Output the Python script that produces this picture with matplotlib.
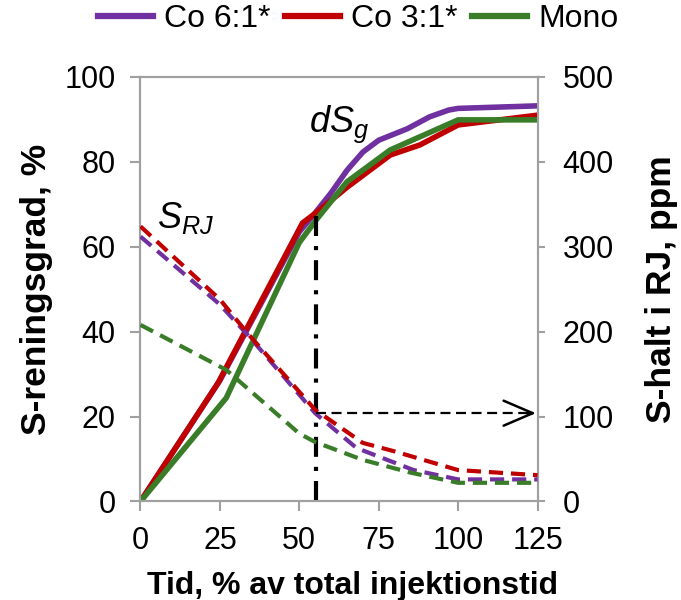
import matplotlib
matplotlib.use("Agg")
import matplotlib.pyplot as plt

plt.rcParams['font.family'] = ['Liberation Sans', 'DejaVu Sans']
plt.rcParams['mathtext.fontset'] = 'custom'
plt.rcParams['mathtext.it'] = 'Liberation Sans:italic'
plt.rcParams['mathtext.rm'] = 'Liberation Sans'

# S-reningsgrad (%), solid lines, left axis
x_co61 = [0, 25, 50, 55, 60, 65, 70, 75, 84, 91, 97, 100, 125]
s_co61 = [0, 28.5, 63.5, 68, 72.7, 78, 82.3, 85.1, 87.8, 90.6, 92.2, 92.6, 93.2]
x_co31 = [0, 24.4, 51, 55.6, 65, 78.6, 88, 100, 125]
s_co31 = [0, 27.9, 65.6, 68.2, 74, 81.6, 84, 88.7, 91]
x_mono = [0, 27, 50, 55.5, 65, 78.6, 100, 125]
s_mono = [0, 24.4, 61, 66.5, 75.3, 82.8, 89.9, 89.9]

# S-halt i RJ (ppm), dashed lines, right axis
xr_co61 = [0, 25, 34.5, 55, 68, 86, 100, 125]
rj_co61 = [312, 232, 193, 104, 63, 37, 26, 26]
xr_co31 = [0, 25, 33.5, 55, 70, 80, 100, 125]
rj_co31 = [324, 238, 199, 108, 69, 59, 37, 31]
xr_mono = [0, 27, 50, 55, 70, 85, 100, 125]
rj_mono = [208, 155, 80, 70, 49, 34, 22, 22]

labels = ['Co 6:1*', 'Co 3:1*', 'Mono']
colors = ['#7030A0', '#C00000', '#3A7D28']

x_mark = 55.3      # dS_g-point
y_mark_top = 68
rj_mark = 104
x_arrow_end = 124.5

fig = plt.figure(figsize=(6.81, 6.0), dpi=100)
ax = fig.add_axes([0.2063, 0.1642, 0.583, 0.7075])
ax2 = ax.twinx()

lines = []
for xs, ys, c in zip([x_co61, x_co31, x_mono], [s_co61, s_co31, s_mono], colors):
    ln, = ax.plot(xs, ys, color=c, lw=4, solid_joinstyle='miter', zorder=3)
    lines.append(ln)

for xs, ys, c in zip([xr_co61, xr_co31, xr_mono], [rj_co61, rj_co31, rj_mono], colors):
    ax2.plot(xs, ys, color=c, lw=3, linestyle=(0, (3.4, 1.9)), zorder=3)

# markers for dS_g and S_RJ
ax.plot([x_mark, x_mark], [0, y_mark_top], color='black', lw=3,
        linestyle=(0, (4.8, 2.4, 1, 2.4)), zorder=4)
ax2.plot([x_mark, x_arrow_end - 1], [rj_mark, rj_mark], color='black', lw=1.6,
         linestyle=(0, (4.5, 2.5)), zorder=4)
ax2.annotate('', xy=(x_arrow_end, rj_mark), xytext=(x_arrow_end - 3, rj_mark),
             arrowprops=dict(arrowstyle='->, head_length=0.7, head_width=0.3',
                             color='black', lw=1.8, mutation_scale=30,
                             shrinkA=0, shrinkB=0))
ax.text(53.2, 87, r'$dS_g$', fontsize=26, zorder=5)
ax.text(5.3, 64.5, r'$S_{RJ}$', fontsize=26, zorder=5)

ax.set_xlim(0, 125)
ax.set_ylim(0, 100)
ax2.set_ylim(0, 500)
ax.set_xticks([0, 25, 50, 75, 100, 125])
ax.set_yticks([0, 20, 40, 60, 80, 100])
ax2.set_yticks([0, 100, 200, 300, 400, 500])

for a in (ax, ax2):
    for sp in a.spines.values():
        sp.set_color('#a0a0a0')
        sp.set_linewidth(1.5)
ax.tick_params(axis='both', labelsize=22, color='#a0a0a0', width=1.5, length=7, pad=11)
ax2.tick_params(axis='y', labelsize=22, color='#a0a0a0', width=1.5, length=5, pad=13)

ax.set_xlabel('Tid, % av total injektionstid', fontsize=23, fontweight='bold')
ax.set_ylabel('S-reningsgrad, %', fontsize=25.5, fontweight='bold')
ax2.set_ylabel('S-halt i RJ, ppm', fontsize=25.5, fontweight='bold')
ax.xaxis.set_label_coords(0.535, -0.163)
ax.yaxis.set_label_coords(-0.22, 0.5)
ax2.yaxis.set_label_coords(1.27, 0.5)

fig.legend(lines, labels, loc='upper center', bbox_to_anchor=(0.526, 1.015),
           ncol=3, frameon=False, fontsize=23, handlelength=1.72,
           handletextpad=0.34, columnspacing=0.47, borderaxespad=0)
for h in fig.legends[0].get_lines():
    h.set_linewidth(4.5)

fig.savefig('out.png', dpi=100)
